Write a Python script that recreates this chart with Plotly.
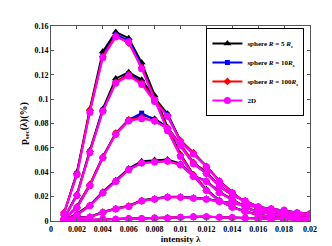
import plotly.graph_objects as go

intensity = [0.001, 0.002, 0.003, 0.004, 0.005, 0.006, 0.007, 0.008, 0.009, 0.010,
             0.011, 0.012, 0.013, 0.014, 0.015, 0.016, 0.017, 0.018, 0.019, 0.020]

series_names = ["sphere <i>R</i> = 5 <i>R</i><sub><i>s</i></sub>",
                "sphere <i>R</i> = 10<i>R</i><sub><i>s</i></sub>",
                "sphere <i>R</i> = 100<i>R</i><sub><i>s</i></sub>",
                "2D"]

sphere_r5 = [
    [0.006, 0.040, 0.092, 0.139, 0.155, 0.150, 0.130, 0.103, 0.077, 0.055, 0.038, 0.026, 0.017, 0.0115, 0.0080, 0.0052, 0.0036, 0.0021, 0.0015, 0.0008],
    [0.002, 0.022, 0.058, 0.092, 0.117, 0.122, 0.116, 0.101, 0.088, 0.066, 0.056, 0.0450, 0.0330, 0.0236, 0.0152, 0.0112, 0.0062, 0.0041, 0.0031, 0.0021],
    [0.001, 0.012, 0.030, 0.053, 0.072, 0.083, 0.087, 0.084, 0.077, 0.063, 0.048, 0.040, 0.0290, 0.0214, 0.0168, 0.0118, 0.0090, 0.0061, 0.0053, 0.0041],
    [0.0005, 0.006, 0.0130, 0.024, 0.0335, 0.043, 0.0490, 0.0500, 0.0505, 0.047, 0.0372, 0.0330, 0.0238, 0.0178, 0.0115, 0.0074, 0.0061, 0.0041, 0.0031, 0.0021],
    [0.0002, 0.0028, 0.0035, 0.0075, 0.0102, 0.0125, 0.0170, 0.0185, 0.0200, 0.0198, 0.0190, 0.0182, 0.0163, 0.0148, 0.0133, 0.0118, 0.0102, 0.0090, 0.0070, 0.0062],
    [0.0001, 0.0006, 0.0011, 0.0017, 0.0016, 0.0021, 0.0022, 0.0026, 0.0027, 0.0031, 0.0036, 0.0036, 0.0031, 0.0029, 0.0026, 0.0021, 0.0019, 0.0016, 0.0013, 0.0011],
]

sphere_r10 = [
    [0.006, 0.039, 0.090, 0.136, 0.153, 0.148, 0.127, 0.100, 0.075, 0.054, 0.037, 0.025, 0.0167, 0.0113, 0.0078, 0.0051, 0.0035, 0.0020, 0.0015, 0.0008],
    [0.002, 0.021, 0.057, 0.091, 0.114, 0.121, 0.114, 0.099, 0.087, 0.065, 0.055, 0.0447, 0.0327, 0.0234, 0.0151, 0.0111, 0.0061, 0.0040, 0.0030, 0.0020],
    [0.001, 0.011, 0.029, 0.052, 0.072, 0.083, 0.0885, 0.083, 0.076, 0.062, 0.047, 0.039, 0.0287, 0.0212, 0.0166, 0.0116, 0.0089, 0.0060, 0.0052, 0.0040],
    [0.0005, 0.005, 0.0127, 0.0235, 0.0330, 0.0425, 0.0480, 0.0490, 0.0495, 0.0465, 0.0368, 0.0327, 0.0235, 0.0175, 0.0113, 0.0073, 0.0060, 0.0040, 0.0030, 0.0020],
    [0.0002, 0.0026, 0.0032, 0.0072, 0.0100, 0.0122, 0.0167, 0.0180, 0.0197, 0.0196, 0.0188, 0.0180, 0.0161, 0.0146, 0.0131, 0.0116, 0.0101, 0.0089, 0.0069, 0.0061],
    [0.0001, 0.0005, 0.0010, 0.0016, 0.0015, 0.0020, 0.0021, 0.0025, 0.0026, 0.0030, 0.0035, 0.0035, 0.0030, 0.0028, 0.0025, 0.0020, 0.0018, 0.0015, 0.0012, 0.0010],
]

sphere_r100 = [
    [0.007, 0.038, 0.091, 0.135, 0.152, 0.146, 0.126, 0.100, 0.075, 0.054, 0.038, 0.025, 0.0166, 0.0112, 0.0077, 0.0050, 0.0035, 0.0020, 0.0015, 0.0008],
    [0.002, 0.021, 0.057, 0.090, 0.114, 0.120, 0.113, 0.099, 0.086, 0.066, 0.056, 0.0448, 0.0326, 0.0233, 0.0150, 0.0110, 0.0060, 0.0040, 0.0030, 0.0020],
    [0.001, 0.011, 0.030, 0.052, 0.072, 0.083, 0.085, 0.082, 0.076, 0.063, 0.048, 0.039, 0.0286, 0.0211, 0.0165, 0.0115, 0.0088, 0.0060, 0.0052, 0.0040],
    [0.0005, 0.005, 0.0126, 0.0232, 0.0327, 0.0422, 0.0477, 0.0487, 0.0492, 0.0462, 0.0366, 0.0326, 0.0233, 0.0174, 0.0112, 0.0072, 0.0060, 0.0040, 0.0030, 0.0020],
    [0.0002, 0.0025, 0.0031, 0.0071, 0.0099, 0.0121, 0.0166, 0.0179, 0.0196, 0.0195, 0.0187, 0.0179, 0.0160, 0.0145, 0.0130, 0.0115, 0.0100, 0.0088, 0.0068, 0.0060],
    [0.0001, 0.0005, 0.0010, 0.0016, 0.0014, 0.0020, 0.0020, 0.0025, 0.0025, 0.0030, 0.0035, 0.0035, 0.0030, 0.0028, 0.0025, 0.0020, 0.0018, 0.0015, 0.0012, 0.0010],
]

planar_2d = [
    [0.006, 0.038, 0.089, 0.134, 0.151, 0.147, 0.125, 0.099, 0.074, 0.053, 0.037, 0.025, 0.0165, 0.0112, 0.0077, 0.0050, 0.0035, 0.0020, 0.0015, 0.0008],
    [0.002, 0.021, 0.056, 0.090, 0.113, 0.119, 0.112, 0.098, 0.086, 0.065, 0.055, 0.0445, 0.0325, 0.0232, 0.0150, 0.0110, 0.0060, 0.0040, 0.0030, 0.0020],
    [0.001, 0.011, 0.029, 0.052, 0.071, 0.082, 0.084, 0.082, 0.076, 0.062, 0.047, 0.039, 0.0285, 0.0210, 0.0165, 0.0115, 0.0088, 0.0060, 0.0052, 0.0040],
    [0.0005, 0.005, 0.0125, 0.023, 0.0325, 0.042, 0.0475, 0.0485, 0.049, 0.046, 0.0365, 0.0325, 0.0232, 0.0173, 0.0112, 0.0072, 0.0060, 0.0040, 0.0030, 0.0020],
    [0.0002, 0.0025, 0.0030, 0.0070, 0.0099, 0.0120, 0.0165, 0.0178, 0.0195, 0.0195, 0.0187, 0.0178, 0.0160, 0.0145, 0.0130, 0.0115, 0.0100, 0.0088, 0.0068, 0.0060],
    [0.0001, 0.0005, 0.0010, 0.0016, 0.0014, 0.0020, 0.0020, 0.0025, 0.0025, 0.0030, 0.0035, 0.0035, 0.0030, 0.0028, 0.0025, 0.0020, 0.0018, 0.0015, 0.0012, 0.0010],
]

x_tick_vals = [0, 0.002, 0.004, 0.006, 0.008, 0.010, 0.012, 0.014, 0.016, 0.018, 0.020]
x_tick_text = ["0", "0.002", "0.004", "0.006", "0.008", "0.01", "0.012", "0.014", "0.016", "0.018", "0.02"]
y_tick_vals = [0, 0.02, 0.04, 0.06, 0.08, 0.10, 0.12, 0.14, 0.16]
y_tick_text = ["0", "0.02", "0.04", "0.06", "0.08", "0.1", "0.12", "0.14", "0.16"]

colors = ["#000000", "#0000ff", "#ff0000", "#ff00ff"]
symbols = ["triangle-up", "square", "diamond", "circle"]
msizes = [7, 5, 6, 7]

fig = go.Figure()
all_series = [sphere_r5, sphere_r10, sphere_r100, planar_2d]
for si, (name, data) in enumerate(zip(series_names, all_series)):
    for ci, curve in enumerate(data):
        fig.add_trace(go.Scatter(
            x=intensity, y=curve, mode="lines+markers",
            name=name, legendgroup=name, showlegend=(ci == 0),
            line=dict(color=colors[si], width=2),
            marker=dict(symbol=symbols[si], size=msizes[si], color=colors[si],
                        line=dict(width=0)),
        ))

font_family = "Liberation Serif, Times New Roman, serif"
fig.update_layout(
    width=332, height=246,
    margin=dict(l=43, r=30, t=18, b=27),
    paper_bgcolor="white", plot_bgcolor="white",
    font=dict(family=font_family, size=8, color="black", weight="bold"),
    showlegend=True,
    legend=dict(x=0.6, y=0.99, xanchor="left", yanchor="top",
                bgcolor="white", bordercolor="black", borderwidth=1,
                font=dict(family=font_family, size=7, color="black", weight="bold"),
                tracegroupgap=0, itemwidth=30),
)
fig.update_xaxes(
    range=[0, 0.02], tickvals=x_tick_vals, ticktext=x_tick_text,
    ticks="inside", ticklen=3, tickcolor="#555", showline=True, linecolor="#555",
    linewidth=1, mirror="ticks", showgrid=False, zeroline=False,
    title=dict(text="intensity λ", standoff=2, font=dict(size=9, weight="bold")),
    tickfont=dict(size=8, weight="bold"),
)
fig.update_yaxes(
    range=[0, 0.16], tickvals=y_tick_vals, ticktext=y_tick_text,
    ticks="inside", ticklen=3, tickcolor="#555", showline=True, linecolor="#555",
    linewidth=1, mirror="ticks", showgrid=False, zeroline=False,
    title=dict(text="p<sub>sec</sub>(λ)(%)", standoff=4, font=dict(size=10, weight="bold")),
    tickfont=dict(size=8, weight="bold"),
)

fig.write_html("out.html")
